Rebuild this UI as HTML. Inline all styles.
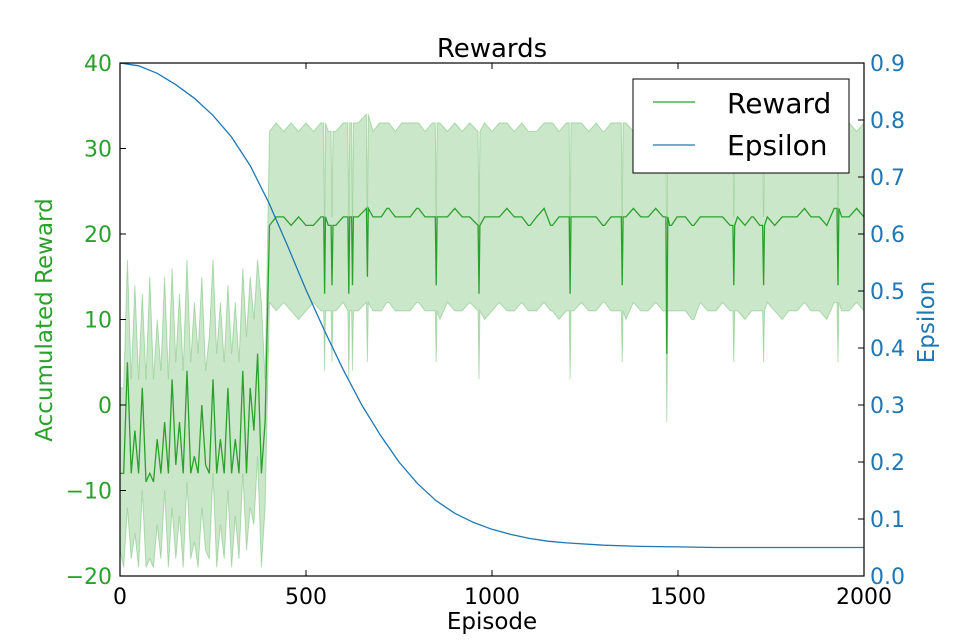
<!DOCTYPE html>
<html><head><meta charset="utf-8"><style>
body{margin:0;background:#fff;}
svg{display:block;font-family:"DejaVu Sans","Liberation Sans",sans-serif;}
</style></head><body>
<svg id="chart" width="960" height="640">
<g id="plot"></g>
</svg>
<script>
const earlyEpisodes=[0,10,20,30,40,50,60,70,80,90,100,110,120,130,140,150,160,170,180,190,200,210,220,230,240,250,260,270,280,290,300,310,320,330,340,350,360,370,380,390,402];
const lateEpisodes=[420,440,460,480,500,520,540,560,580,600,620,640,660,680,700,720,740,760,780,800,820,840,860,880,900,920,940,960,980,1000,1020,1040,1060,1080,1100,1120,1140,1160,1180,1200,1220,1240,1260,1280,1300,1320,1340,1360,1380,1400,1420,1440,1460,1480,1500,1520,1540,1560,1580,1600,1620,1640,1660,1680,1700,1720,1740,1760,1780,1800,1820,1840,1860,1880,1900,1920,1940,1960,1980,2000];
const earlyMean=[-8,-8,5,-8,-3,-8,2,-9,-8,-9,-4,-8,-2,-8,3,-7,-2,-8,4,-8,-6,-8,0,-7,-8,3,-8,-4,-8,2,-8,-4,-8,4,-8,2,-3,6,-8,-2,21];
const earlyUpper=[2,2,17,3,14,3,13,3,15,3,10,4,15,3,16,5,13,4,17,5,12,6,15,4,8,17,6,12,5,14,6,12,5,16,8,15,10,17,12,3,32];
const earlyLower=[-17,-19,-12,-18,-15,-19,-10,-19,-18,-19,-14,-18,-10,-19,-12,-18,-13,-19,-9,-18,-16,-19,-12,-17,-18,-8,-19,-14,-18,-10,-19,-13,-18,-8,-17,-12,-14,-6,-19,-12,12];
const lateMean=[22,22,21,22,21,21,22,21,21,22,22,22,23,22,22,23,22,22,22,23,22,22,22,22,23,22,22,21,22,22,22,23,22,22,21,22,23,21,22,22,22,22,22,22,21,22,22,22,23,22,22,23,22,21,22,22,21,22,22,22,22,21,22,21,22,21,22,21,22,22,22,23,22,22,21,23,22,22,23,22];
const lateUpper=[33,32,33,32,33,32,33,32,32,33,33,33,34,32,33,33,32,33,33,33,32,33,33,32,33,32,33,32,33,32,33,33,32,33,32,32,33,33,32,33,33,33,32,33,32,33,33,33,32,33,33,32,33,32,33,32,33,32,33,33,32,33,33,32,33,32,33,32,33,32,32,33,33,32,33,32,33,33,32,33];
const lateLower=[11,12,11,10,11,12,11,11,11,12,11,11,12,11,11,12,11,11,11,12,11,11,10,12,11,11,12,11,10,11,12,11,11,12,11,11,12,11,10,11,11,12,11,11,12,11,11,10,12,11,11,12,11,11,11,11,10,12,11,11,12,11,11,10,11,11,12,11,10,11,11,12,11,11,10,12,11,11,12,11];
const dipEpisodes=[550,570,615,625,665,700,720,760,800,850,965,1100,1160,1210,1300,1350,1470,1480,1500,1540,1600,1650,1700,1730,1800,1860,1930];
const dipMean=[13,14,13,14,15,14,13,6,13,14,13,13,14,13,13,14,6,13,13,14,13,14,13,14,9,13,14];
const dipUpper=[20,22,20,22,22,21,20,16,20,22,20,20,22,20,20,22,16,20,20,22,20,22,20,22,18,20,22];
const dipLower=[4,5,3,4,5,4,3,-4,4,5,3,4,5,3,4,5,-2,3,2,5,4,5,3,5,-1,4,5];
const epsEpisodes=[0,50,100,150,200,250,300,350,400,450,500,550,600,650,700,750,800,850,900,950,1000,1050,1100,1150,1200,1300,1400,1500,1600,1800,2000];
const epsValues=[0.9,0.895,0.882,0.862,0.838,0.808,0.77,0.72,0.655,0.58,0.502,0.43,0.362,0.3,0.247,0.2,0.162,0.132,0.11,0.094,0.082,0.073,0.066,0.061,0.058,0.054,0.052,0.051,0.05,0.05,0.05];
const xTicks=[0,500,1000,1500,2000];
const yTicks=[-20,-10,0,10,20,30,40];
const y2Ticks=[0,0.1,0.2,0.3,0.4,0.5,0.6,0.7,0.8,0.9];

const L=120,R=864,T=63,B=576;
const sx=v=>L+(v/2000)*(R-L);
const sy=v=>B-(v+20)/60*(B-T);
const sy2=v=>B-v/0.9*(B-T);
const NS="http://www.w3.org/2000/svg";
const g=document.getElementById('plot');
function mk(tag,attrs,parent){const e=document.createElementNS(NS,tag);for(const k in attrs)e.setAttribute(k,attrs[k]);(parent||g).appendChild(e);return e;}

// merge baseline with narrow dips
let pts=[];
earlyEpisodes.forEach((e,i)=>pts.push([e,earlyMean[i],earlyUpper[i],earlyLower[i]]));
const lateBase=lateEpisodes.map((e,i)=>[e,lateMean[i],lateUpper[i],lateLower[i]]);
function nearestBase(e){let best=lateBase[0];lateBase.forEach(p=>{if(Math.abs(p[0]-e)<Math.abs(best[0]-e))best=p;});return best;}
let late=lateBase.slice();
dipEpisodes.forEach((e,i)=>{
  const b=nearestBase(e);
  late.push([e-2.5,b[1],b[2],b[3]]);
  late.push([e,dipMean[i],dipUpper[i],dipLower[i]]);
  late.push([e+2.5,b[1],b[2],b[3]]);
});
late=late.filter(p=>!dipEpisodes.some(d=>Math.abs(d-p[0])<2.5&&Math.abs(d-p[0])>0 ? false : (Math.abs(d-p[0])<6 && lateEpisodes.includes(p[0]))));
late.sort((a,b)=>a[0]-b[0]);
pts=pts.concat(late);

let d='';
pts.forEach((p,i)=>{d+=(i?'L':'M')+sx(p[0]).toFixed(1)+','+sy(p[2]).toFixed(1);});
for(let i=pts.length-1;i>=0;i--)d+='L'+sx(pts[i][0]).toFixed(1)+','+sy(pts[i][3]).toFixed(1);
const band=mk('path',{d:d+'Z',fill:'#2ca02c','fill-opacity':0.25,stroke:'#2ca02c','stroke-opacity':0.3,'stroke-width':1});



const mline=mk('path',{d:pts.map((p,i)=>(i?'L':'M')+sx(p[0]).toFixed(1)+','+sy(p[1]).toFixed(1)).join(''),fill:'none',stroke:'#2ca02c','stroke-width':1.3});



const eline=mk('path',{d:epsEpisodes.map((e,i)=>(i?'L':'M')+sx(e).toFixed(1)+','+sy2(epsValues[i]).toFixed(1)).join(''),fill:'none',stroke:'#1f77b4','stroke-width':1.3});



const frame=mk('rect',{x:L,y:T,width:R-L,height:B-T,fill:'none',stroke:'#000','stroke-width':1.2});



xTicks.forEach(t=>{
  const x=sx(t);
  mk('line',{x1:x,x2:x,y1:B,y2:B-6,stroke:'#000'});
  mk('line',{x1:x,x2:x,y1:T,y2:T+6,stroke:'#000'});
  const tx=mk('text',{x:x,y:B+28,'text-anchor':'middle','font-size':22,fill:'#000'});
  tx.textContent=t;
  
  
});
yTicks.forEach(t=>{
  const y=sy(t);
  mk('line',{x1:L,x2:L+6,y1:y,y2:y,stroke:'#000'});
  const tx=mk('text',{x:L-8,y:y+8,'text-anchor':'end','font-size':22,fill:'#2ca02c'});
  tx.textContent=t<0?'\u2212'+Math.abs(t):t;
  
  
});
y2Ticks.forEach(t=>{
  const y=sy2(t);
  mk('line',{x1:R-6,x2:R,y1:y,y2:y,stroke:'#000'});
  const tx=mk('text',{x:R+6,y:y+8,'text-anchor':'start','font-size':22,fill:'#1f77b4'});
  tx.textContent=t.toFixed(1);
  
  
});
</script>
<svg width="960" height="640" style="position:absolute;left:0;top:0;font-family:'DejaVu Sans','Liberation Sans',sans-serif;">
<text x="492" y="57" text-anchor="middle" font-size="26">Rewards</text>
<text x="492" y="629" text-anchor="middle" font-size="23">Episode</text>
<text x="52" y="320" text-anchor="middle" font-size="23" fill="#2ca02c" transform="rotate(-90 52 320)">Accumulated Reward</text>
<text x="934" y="322" text-anchor="middle" font-size="23" fill="#1f77b4" transform="rotate(-90 934 322)">Epsilon</text>
<g>
<rect x="633" y="79" width="216" height="94" fill="#fff" stroke="#000" stroke-width="1"/>
<line x1="653" x2="695" y1="102" y2="102" stroke="#2ca02c" stroke-width="1.3"/>
<text x="727" y="113" font-size="28">Reward</text>
<line x1="653" x2="695" y1="145" y2="145" stroke="#1f77b4" stroke-width="1.3"/>
<text x="727" y="155" font-size="28">Epsilon</text>
</g>
</svg>
</body></html>
